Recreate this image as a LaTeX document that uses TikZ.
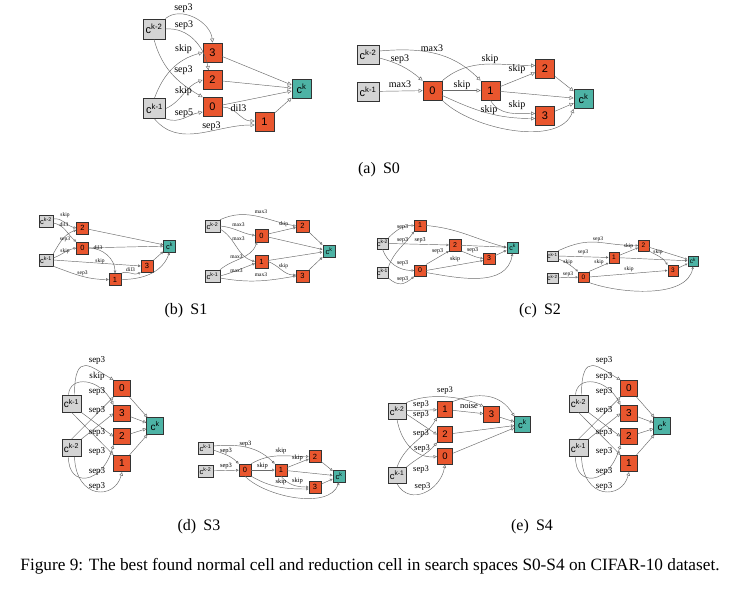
\documentclass[tikz,border=0pt]{standalone}
\usepackage{fontspec}
\setmainfont{Liberation Serif}
\setsansfont{Liberation Sans}
\usetikzlibrary{arrows.meta}
\definecolor{opc}{HTML}{E9562E}
\definecolor{inc}{HTML}{D4D4D4}
\definecolor{outc}{HTML}{4DB3A5}
\definecolor{edgec}{HTML}{6A6A6A}
\definecolor{boxc}{HTML}{333333}
\tikzset{
 cellsz/.style n args={7}{
   nb/.style={draw=boxc,line width=#7pt,minimum width=#1pt,minimum height=#1pt,inner sep=0pt,font=\sffamily\fontsize{#2}{#2}\selectfont},
   ib/.style={draw=boxc,line width=#7pt,minimum width=#3pt,minimum height=#4pt,inner sep=0pt,font=\sffamily\fontsize{#2}{#2}\selectfont},
   lf/.style={inner sep=0pt,font=\rmfamily\fontsize{#5}{#5}\selectfont},
   conn/.style={draw=edgec,line width=0.45pt,-{Triangle[open,length=#6pt,width=#6pt]}},
 },
 captxt/.style={inner sep=0pt,font=\rmfamily\fontsize{16}{19}\selectfont},
}
\newcommand{\NCellBody}[3]{%
 \node[ib,fill=inc] (T) at (71.5,-403.5) {c\textsuperscript{#1}};
 \node[ib,fill=inc] (B) at (71.5,-448) {c\textsuperscript{#2}};
 \node[nb,fill=opc] (n0) at (122,-388.5) {0};
 \node[nb,fill=opc] (n3) at (122,-413.5) {3};
 \node[nb,fill=opc] (n2) at (122,-436.5) {2};
 \node[nb,fill=opc] (n1) at (122,-463.5) {1};
 \node[nb,fill=outc] (ck) at (155,-426) {c\textsuperscript{k}};
 \draw[conn] ([xshift=3pt]T.north) to[out=90,in=150,out distance=45pt,in distance=25pt] (n0.north west);
 \draw[conn] ([xshift=-3pt]T.north) .. controls (70,-375) and (100,-378) .. (n3.north west);
 \draw[conn] (B.north) -- (n0.south west);
 \draw[conn] (B.north east) -- (n3.west);
 \draw[conn] (T.south east) -- (n2.west);
 \draw[conn] (T.south) -- (n1.north west);
 \draw[conn] ([xshift=-3pt]B.south) .. controls (68,-488) and (102,-485) .. (n2.south west);
 \draw[conn] ([xshift=3pt]B.south) .. controls (76,-500) and (115,-500) .. (n1.south);
 \draw[conn] (n0) -- (ck);
 \draw[conn] (n3) -- (ck);
 \draw[conn] (n2) -- (ck);
 \draw[conn] (n1) -- (ck);
 \node[lf] (l1) at (97,-360.5) {sep3};
 \node[lf] (l2) at (97,-376.5) {#3};
 \node[lf] (l3) at (97,-391.5) {sep3};
 \node[lf] (l4) at (97,-410) {sep3};
 \node[lf] (l5) at (97,-432) {sep3};
 \node[lf] (l6) at (97,-451) {sep3};
 \node[lf] (l7) at (97,-471) {sep3};
 \node[lf] (l8) at (97,-486) {sep3};
}
\begin{document}
\begin{tikzpicture}[x=1pt,y=1pt]
\fill[white] (0,0) rectangle (750,-589);
\useasboundingbox (0,0) rectangle (750,-589);

% ---------------- S0 normal
\begin{scope}[cellsz={19}{11}{22}{20}{10}{4}{0.8}]
\node[ib,fill=inc] (A2) at (154,-29) {c\textsuperscript{k-2}};
\node[ib,fill=inc] (A1) at (154.5,-108.5) {c\textsuperscript{k-1}};
\node[nb,fill=opc] (A3n) at (212.5,-52.5) {3};
\node[nb,fill=opc] (A2n) at (212.5,-80) {2};
\node[nb,fill=opc] (A0n) at (212.5,-107) {0};
\node[nb,fill=opc] (A1n) at (264.5,-122) {1};
\node[nb,fill=outc] (Ack) at (301.5,-89) {c\textsuperscript{k}};
\draw[conn] (A2.north east) to[out=40,in=95] (A3n.north);
\draw[conn] (A2.east) to[out=5,in=100] ([xshift=-4pt]A2n.north);
\draw[conn] (A1.north) to[out=70,in=195] (A3n.west);
\draw[conn] (A2.south) to[out=-75,in=150] (A0n.north west);
\draw[conn] (A1.east) to[out=25,in=200] (A2n.west);
\draw[conn] (A1.south east) to[out=-20,in=190] ([yshift=-5pt]A0n.west);
\draw[conn] (A1.south) to[out=-50,in=180] ([yshift=-3pt]A1n.west);
\draw[conn] (A0n.east) to[out=0,in=180] ([yshift=1pt]A1n.west);
\draw[conn] (A3n) -- (Ack);
\draw[conn] (A2n) -- (Ack);
\draw[conn] (A0n) -- (Ack);
\draw[conn] (A1n) -- (Ack);
\node[lf] (Al1) at (183.5,-8.5) {sep3};
\node[lf] (Al2) at (184,-25) {sep3};
\node[lf] (Al3) at (183.5,-49.5) {skip};
\node[lf] (Al4) at (183.5,-70.5) {sep3};
\node[lf] (Al5) at (183.5,-91) {skip};
\node[lf] (Al6) at (184,-113.5) {sep5};
\node[lf] (Al7) at (238.5,-108.5) {dil3};
\node[lf] (Al8) at (211.5,-126.5) {sep3};
\end{scope}

% ---------------- S0 reduction
\begin{scope}[cellsz={19}{11}{22}{19}{10}{4}{0.8}]
\node[ib,fill=inc] (B2) at (368,-55) {c\textsuperscript{k-2}};
\node[ib,fill=inc] (B1) at (368,-91.5) {c\textsuperscript{k-1}};
\node[nb,fill=opc] (B0n) at (432.5,-90.5) {0};
\node[nb,fill=opc] (B1n) at (490.5,-90.5) {1};
\node[nb,fill=opc] (B2n) at (545,-68.5) {2};
\node[nb,fill=opc] (B3n) at (545,-115.5) {3};
\node[nb,fill=outc] (Bck) at (583.5,-99) {c\textsuperscript{k}};
\draw[conn] ([yshift=4pt]B2.east) to[out=5,in=135] (B1n.north west);
\draw[conn] ([yshift=-3pt]B2.east) to[out=-15,in=140] (B0n.north west);
\draw[conn] (B1) -- (B0n);
\draw[conn] (B0n) -- (B1n);
\draw[conn] (B0n.north east) to[out=40,in=180] ([yshift=3pt]B2n.west);
\draw[conn] (B1n) -- (B2n);
\draw[conn] (B1n.south) to[out=-60,in=180] ([yshift=2pt]B3n.west);
\draw[conn] ([yshift=-5pt]B0n.east) to[out=-25,in=180] ([yshift=-3pt]B3n.west);
\draw[conn] (B0n.south east) to[out=-45,in=-110,looseness=0.8] (Bck.south west);
\draw[conn] (B1n) -- (Bck);
\draw[conn] (B2n) -- (Bck);
\draw[conn] (B3n) -- (Bck);
\node[lf] (Bl1) at (432,-48) {max3};
\node[lf] (Bl2) at (400,-59.5) {sep3};
\node[lf] (Bl3) at (400,-84) {max3};
\node[lf] (Bl4) at (490,-59) {skip};
\node[lf] (Bl5) at (462,-85.5) {skip};
\node[lf] (Bl6) at (517,-69.5) {skip};
\node[lf] (Bl7) at (517,-105.5) {skip};
\node[lf] (Bl8) at (489,-110.5) {skip};
\end{scope}

% ---------------- S1 normal
\begin{scope}[cellsz={12}{7.5}{14}{12}{5.5}{2.6}{0.5}]
\node[ib,fill=inc] (C2) at (46,-221) {c\textsuperscript{k-2}};
\node[ib,fill=inc] (C1) at (46,-260) {c\textsuperscript{k-1}};
\node[nb,fill=opc] (C2n) at (82.5,-228) {2};
\node[nb,fill=opc] (C0n) at (82.5,-248) {0};
\node[nb,fill=opc] (C1n) at (115,-279.5) {1};
\node[nb,fill=opc] (C3n) at (147,-266) {3};
\node[nb,fill=outc] (Cck) at (169.5,-246) {c\textsuperscript{k}};
\draw[conn] ([yshift=2pt]C2.east) to[out=10,in=170] (C2n.west);
\draw[conn] ([yshift=-2pt]C2.east) to[out=-10,in=140] (C0n.north west);
\draw[conn] (C1.north east) to[out=60,in=200] ([yshift=-2pt]C2n.west);
\draw[conn] ([yshift=2pt]C1.east) to[out=20,in=190] (C0n.west);
\draw[conn] (C0n.east) to[out=0,in=90] (C1n.north);
\draw[conn] (C1.east) -- (C3n.west);
\draw[conn] (C1.south east) to[out=-20,in=180] (C1n.west);
\draw[conn] (C1n.north east) to[out=25,in=210] (C3n.south west);
\draw[conn] (C2n) -- (Cck);
\draw[conn] (C0n) -- (Cck);
\draw[conn] (C3n) -- (Cck);
\draw[conn] (C1n.east) to[out=0,in=-110] (Cck.south);
\node[lf] (Cl1) at (65,-215) {skip};
\node[lf] (Cl2) at (64,-224.5) {dil3};
\node[lf] (Cl3) at (65,-239) {sep3};
\node[lf] (Cl4) at (65,-251) {skip};
\node[lf] (Cl5) at (98,-248) {dil3};
\node[lf] (Cl6) at (100,-261.5) {skip};
\node[lf] (Cl7) at (82.5,-273.5) {sep3};
\node[lf] (Cl8) at (130.5,-270) {dil3};
\end{scope}

% ---------------- S1 reduction
\begin{scope}[cellsz={12.5}{7.5}{14.5}{12}{5.5}{2.6}{0.5}]
\node[ib,fill=inc] (D2) at (212.5,-226) {c\textsuperscript{k-2}};
\node[ib,fill=inc] (D1) at (212.5,-276) {c\textsuperscript{k-1}};
\node[nb,fill=opc] (D0n) at (261.5,-235.5) {0};
\node[nb,fill=opc] (D1n) at (261.5,-261.5) {1};
\node[nb,fill=opc] (D2n) at (302.5,-226) {2};
\node[nb,fill=opc] (D3n) at (302.5,-276) {3};
\node[nb,fill=outc] (Dck) at (329,-251) {c\textsuperscript{k}};
\draw[conn] (D2.north east) to[out=25,in=170] (D2n.west);
\draw[conn] (D2.east) to[out=-5,in=170] (D0n.west);
\draw[conn] ([yshift=-3pt]D2.east) to[out=-30,in=165] (D1n.west);
\draw[conn] (D1.north east) to[out=40,in=-110] ([xshift=2pt]D0n.south west);
\draw[conn] (D1.east) to[out=15,in=200] ([yshift=-2pt]D1n.west);
\draw[conn] ([yshift=-2pt]D1.east) to[out=-10,in=190] (D3n.west);
\draw[conn] (D0n) -- (D2n);
\draw[conn] (D1n.east) to[out=-20,in=180] ([yshift=1pt]D3n.west);
\draw[conn] (D0n) -- (Dck);
\draw[conn] (D1n) -- (Dck);
\draw[conn] (D2n) -- (Dck);
\draw[conn] (D3n) -- (Dck);
\node[lf] (Dl1) at (261,-211.5) {max3};
\node[lf] (Dl2) at (238.5,-224.5) {max3};
\node[lf] (Dl3) at (238.5,-238.5) {max3};
\node[lf] (Dl4) at (236.5,-256.5) {max3};
\node[lf] (Dl5) at (236.5,-271) {max3};
\node[lf] (Dl6) at (261,-275) {max3};
\node[lf] (Dl7) at (283.5,-224) {skip};
\node[lf] (Dl8) at (283.5,-266.5) {skip};
\end{scope}

% ---------------- S2 normal
\begin{scope}[cellsz={11.5}{7}{11.5}{11}{6}{2.5}{0.5}]
\node[ib,fill=inc] (E2) at (382.5,-243.5) {c\textsuperscript{k-2}};
\node[ib,fill=inc] (E1) at (382.5,-272.5) {c\textsuperscript{k-1}};
\node[nb,fill=opc] (E1n) at (420,-225.5) {1};
\node[nb,fill=opc] (E0n) at (420,-270.5) {0};
\node[nb,fill=opc] (E2n) at (455,-245) {2};
\node[nb,fill=opc] (E3n) at (489,-258.5) {3};
\node[nb,fill=outc] (Eck) at (512.5,-247.5) {c\textsuperscript{k}};
\draw[conn] (E2.north east) to[out=45,in=180] (E1n.west);
\draw[conn] (E1.north east) to[out=70,in=235] (E1n.south west);
\draw[conn] (E2.east) -- (E2n.west);
\draw[conn] (E2.south) to[out=-70,in=180] (E0n.west);
\draw[conn] (E1.south east) to[out=-40,in=-140,looseness=1.3] (E0n.south west);
\draw[conn] (E0n.north east) -- (E2n.south west);
\draw[conn] (E2n.south east) to[out=-20,in=170] (E3n.west);
\draw[conn] (E0n.east) -- ([yshift=-2pt]E3n.west);
\draw[conn] (E1n.east) to[out=-5,in=165] (Eck.west);
\draw[conn] (E2n) -- (Eck);
\draw[conn] (E3n) -- (Eck);
\draw[conn] ([yshift=-2pt]E0n.east) to[out=-10,in=-100] (Eck.south);
\node[lf] (El1) at (402.5,-227) {sep3};
\node[lf] (El2) at (402.5,-240.5) {sep3};
\node[lf] (El3) at (420,-240.5) {sep3};
\node[lf] (El4) at (402.5,-263) {sep3};
\node[lf] (El5) at (402.5,-279.5) {sep3};
\node[lf] (El6) at (437.5,-251) {sep3};
\node[lf] (El7) at (472.5,-250.5) {sep3};
\node[lf] (El8) at (455,-259.5) {skip};
\end{scope}

% ---------------- S2 reduction
\begin{scope}[cellsz={10.5}{6.5}{11}{10}{5.5}{2.3}{0.5}]
\node[ib,fill=inc] (F1) at (552.5,-256) {c\textsuperscript{k-1}};
\node[ib,fill=inc] (F2) at (552.5,-278) {c\textsuperscript{k-2}};
\node[nb,fill=opc] (F0n) at (583.5,-277) {0};
\node[nb,fill=opc] (F1n) at (614,-257.5) {1};
\node[nb,fill=opc] (F2n) at (643.5,-245.5) {2};
\node[nb,fill=opc] (F3n) at (673,-270.5) {3};
\node[nb,fill=outc] (Fck) at (693,-261) {c\textsuperscript{k}};
\draw[conn] (F1.north east) to[out=25,in=180,looseness=1.2] (F2n.west);
\draw[conn] (F1.east) -- (F1n.west);
\draw[conn] ([yshift=-3pt]F1.east) to[out=-20,in=140] (F0n.north west);
\draw[conn] (F2) -- (F0n);
\draw[conn] (F0n.north east) -- (F1n.south west);
\draw[conn] (F1n) -- (F2n);
\draw[conn] (F0n.east) -- (F3n.west);
\draw[conn] (F2n.south east) to[out=-30,in=120] (F3n.north west);
\draw[conn] (F2n) -- (Fck);
\draw[conn] (F1n) -- (Fck);
\draw[conn] (F3n) -- (Fck);
\draw[conn] (F0n.south east) to[out=-20,in=-100,looseness=0.8] (Fck.south);
\node[lf] (Fl1) at (598,-239.5) {sep3};
\node[lf] (Fl2) at (583,-252.5) {sep3};
\node[lf] (Fl3) at (568,-262) {skip};
\node[lf] (Fl4) at (568,-274) {sep3};
\node[lf] (Fl5) at (599,-262.5) {skip};
\node[lf] (Fl6) at (628.5,-246) {skip};
\node[lf] (Fl7) at (629,-269.5) {skip};
\node[lf] (Fl8) at (658,-252.5) {skip};
\end{scope}

% ---------------- S3 normal
\begin{scope}[name prefix=G-,cellsz={16.5}{10}{19}{17}{9}{3.5}{0.7}]
\NCellBody{k-1}{k-2}{skip}
\end{scope}

% ---------------- S3 reduction
\begin{scope}[cellsz={12}{7.5}{15}{12}{6.5}{2.7}{0.55}]
\node[ib,fill=inc] (K1) at (205.5,-448) {c\textsuperscript{k-1}};
\node[ib,fill=inc] (K2) at (205.5,-471) {c\textsuperscript{k-2}};
\node[nb,fill=opc] (K0n) at (245,-470) {0};
\node[nb,fill=opc] (K1n) at (281,-470) {1};
\node[nb,fill=opc] (K2n) at (315,-456.5) {2};
\node[nb,fill=opc] (K3n) at (315,-487) {3};
\node[nb,fill=outc] (Kck) at (339,-476) {c\textsuperscript{k}};
\draw[conn] ([yshift=2pt]K1.east) to[out=5,in=135] (K1n.north west);
\draw[conn] ([yshift=-2pt]K1.east) to[out=-20,in=135] (K0n.north west);
\draw[conn] (K2) -- (K0n);
\draw[conn] (K0n.north east) to[out=30,in=180] (K2n.west);
\draw[conn] (K0n) -- (K1n);
\draw[conn] (K1n) -- (K2n);
\draw[conn] (K1n.south) to[out=-50,in=180] (K3n.west);
\draw[conn] (K0n.south east) to[out=-30,in=180] ([yshift=-2pt]K3n.west);
\draw[conn] (K0n.south) to[out=-45,in=-110,looseness=0.8] (Kck.south);
\draw[conn] (K1n) -- (Kck);
\draw[conn] (K2n) -- (Kck);
\draw[conn] (K3n) -- (Kck);
\node[lf] (Kl1) at (245.5,-444) {sep3};
\node[lf] (Kl2) at (226,-451) {sep3};
\node[lf] (Kl3) at (226,-466) {sep3};
\node[lf] (Kl4) at (281,-450.5) {skip};
\node[lf] (Kl5) at (262.5,-466) {skip};
\node[lf] (Kl6) at (297.5,-458) {skip};
\node[lf] (Kl7) at (297.5,-480.5) {skip};
\node[lf] (Kl8) at (281,-482) {skip};
\end{scope}

% ---------------- S4 normal
\begin{scope}[cellsz={15.5}{9.5}{18}{16}{8.5}{3.3}{0.7}]
\node[ib,fill=inc] (P2) at (397,-411) {c\textsuperscript{k-2}};
\node[ib,fill=inc] (P1) at (397,-475.5) {c\textsuperscript{k-1}};
\node[nb,fill=opc] (P1n) at (445,-409.5) {1};
\node[nb,fill=opc] (P2n) at (445,-434.5) {2};
\node[nb,fill=opc] (P0n) at (445,-456.5) {0};
\node[nb,fill=opc] (P3n) at (491.5,-414.5) {3};
\node[nb,fill=outc] (Pck) at (522.5,-424.5) {c\textsuperscript{k}};
\draw[conn] (P2.north east) to[out=25,in=155,looseness=0.8] (P3n.north west);
\draw[conn] (P2) -- (P1n);
\draw[conn] ([yshift=-3pt]P2.east) -- (P2n.west);
\draw[conn] (P1.north) to[out=70,in=240] (P1n.south west);
\draw[conn] (P2.south) to[out=-80,in=185,out distance=25pt,in distance=20pt] (P0n.west);
\draw[conn] (P1.north east) to[out=40,in=230] (P2n.south west);
\draw[conn] (P1.south) to[out=-60,in=-100,looseness=1.3] (P0n.south);
\draw[conn] (P1n) -- (P3n);
\draw[conn] (P1n.north east) .. controls (478,-392) and (500,-393) .. (Pck.north west);
\draw[conn] (P3n) -- (Pck);
\draw[conn] (P2n) -- (Pck);
\draw[conn] (P0n) -- (Pck);
\node[lf] (Pl1) at (445,-391) {sep3};
\node[lf] (Pl2) at (421,-404.5) {sep3};
\node[lf] (Pl3) at (421,-415) {sep3};
\node[lf] (Pl4) at (421,-433.5) {sep3};
\node[lf] (Pl5) at (422,-449) {sep3};
\node[lf] (Pl6) at (421,-469.5) {sep3};
\node[lf] (Pl7) at (422.5,-486.5) {sep3};
\node[lf] (Pl8) at (469,-405.5) {noise};
\end{scope}

% ---------------- S4 reduction
\begin{scope}[xshift=507pt,name prefix=H-,cellsz={16.5}{10}{19}{17}{9}{3.5}{0.7}]
\NCellBody{k-2}{k-1}{sep3}
\end{scope}

% ---------------- captions
\node[captxt] (capa) at (379,-170) {(a)\hspace{0.45em}S0};
\node[captxt] (capb) at (186,-311) {(b)\hspace{0.45em}S1};
\node[captxt] (capc) at (540,-311) {(c)\hspace{0.45em}S2};
\node[captxt] (capd) at (199,-527) {(d)\hspace{0.45em}S3};
\node[captxt] (cape) at (532,-527) {(e)\hspace{0.45em}S4};
\node[captxt,font=\rmfamily\fontsize{17.25}{20}\selectfont] (fig) at (370,-566) {Figure 9: The best found normal cell and reduction cell in search spaces S0-S4 on CIFAR-10 dataset.};
\end{tikzpicture}
\end{document}
